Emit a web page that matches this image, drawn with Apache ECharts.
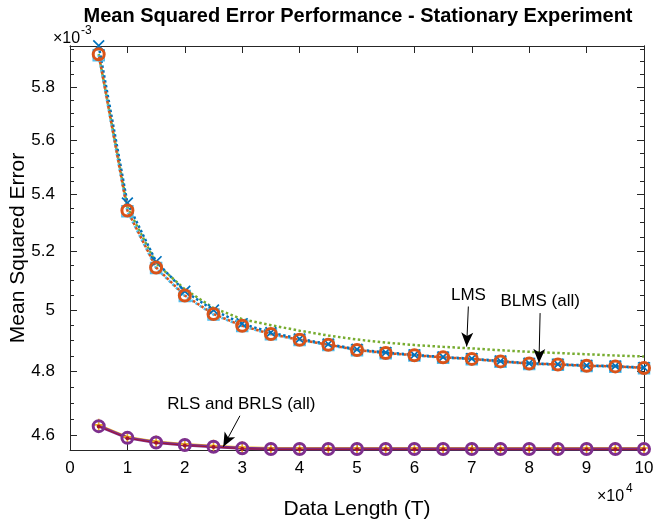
<!DOCTYPE html>
<html>
<head>
<meta charset="utf-8">
<script src="https://cdn.jsdelivr.net/npm/echarts@6/dist/echarts.min.js"></script>
<style>
  html, body { margin: 0; padding: 0; background: #fff; }
  #chart { width: 654px; height: 522px; }
</style>
</head>
<body>
<div id="chart"></div>
<script>
// Data length T for each experiment run
const dataLength = [5000, 10000, 15000, 20000, 25000, 30000, 35000, 40000, 45000, 50000,
                    55000, 60000, 65000, 70000, 75000, 80000, 85000, 90000, 95000, 100000];

// Mean squared error per algorithm
const lms    = [5.930, 5.355, 5.158, 5.070, 5.007, 4.970, 4.950, 4.932, 4.916, 4.903,
                4.893, 4.885, 4.879, 4.874, 4.868, 4.863, 4.859, 4.855, 4.851, 4.848];
const blms1  = [5.963, 5.370, 5.164, 5.063, 5.000, 4.955, 4.926, 4.905, 4.888, 4.871,
                4.861, 4.853, 4.846, 4.841, 4.833, 4.826, 4.823, 4.819, 4.817, 4.812];
const blms2  = [5.929, 5.343, 5.144, 5.049, 4.987, 4.948, 4.921, 4.902, 4.886, 4.869,
                4.859, 4.852, 4.845, 4.840, 4.832, 4.825, 4.822, 4.818, 4.816, 4.811];
const blms3  = [5.925, 5.340, 5.142, 5.047, 4.985, 4.947, 4.920, 4.901, 4.885, 4.868,
                4.858, 4.851, 4.844, 4.839, 4.831, 4.824, 4.821, 4.817, 4.815, 4.810];
const rls1   = [4.632, 4.595, 4.581, 4.573, 4.568, 4.563, 4.561, 4.561, 4.561, 4.561,
                4.561, 4.561, 4.561, 4.561, 4.561, 4.561, 4.561, 4.561, 4.561, 4.561];
const rls2   = [4.628, 4.592, 4.578, 4.570, 4.565, 4.560, 4.558, 4.558, 4.558, 4.558,
                4.558, 4.558, 4.558, 4.558, 4.558, 4.558, 4.558, 4.558, 4.558, 4.558];
const rls3   = [4.627, 4.591, 4.577, 4.569, 4.564, 4.559, 4.557, 4.557, 4.557, 4.557,
                4.557, 4.557, 4.557, 4.557, 4.557, 4.557, 4.557, 4.557, 4.557, 4.557];

// Axis settings (y is a logarithmic scale)
const yRange = [4.555, 5.962];
const yMajorTicks = [4.6, 4.8, 5, 5.2, 5.4, 5.6, 5.8];
const yMinorTicks = [4.65, 4.7, 4.75, 4.85, 4.9, 4.95, 5.05, 5.1, 5.15, 5.25, 5.3, 5.35,
                     5.45, 5.5, 5.55, 5.65, 5.7, 5.75, 5.85, 5.9, 5.95];
const xRange = [0, 100000];
const xStep = 10000;

// Text arrows: label, tail [T, MSE], head [T, MSE]
const arrowLabels = ['LMS', 'BLMS (all)', 'RLS and BRLS (all)'];
const arrowTails  = [[69400, 5.012], [81900, 4.990], [29600, 4.660]];
const arrowHeads  = [[69100, 4.880], [81700, 4.827], [26700, 4.565]];

const lg = Math.log10;
const FONT = '"Liberation Sans", Arial, Helvetica, sans-serif';
const pts = vals => dataLength.map((t, i) => [t, lg(vals[i])]);

const crossPath = 'path://M0,1L1,0L5,4L9,0L10,1L6,5L10,9L9,10L5,6L1,10L0,9L4,5Z';
const plusPath  = 'path://M4.3,0H5.7V4.3H10V5.7H5.7V10H4.3V5.7H0V4.3H4.3Z';

function lineSeries(name, vals, color, opts) {
  return Object.assign({
    name: name,
    type: 'line',
    data: pts(vals),
    clip: false,
    silent: true,
    animation: false,
    lineStyle: { color: color, width: 2.5, type: 'solid' },
    itemStyle: { color: color },
    emphasis: { disabled: true }
  }, opts);
}

const dotted = color => ({ color: color, width: 2.5, type: [2.5, 2.5] });

const series = [
  lineSeries('LMS', lms, '#77AC30', {
    showSymbol: false, symbol: 'none',
    lineStyle: dotted('#77AC30'),
    markLine: {
      silent: true,
      animation: false,
      symbol: ['none', 'arrow'],
      symbolSize: [9, 14],
      lineStyle: { color: '#000', width: 1, type: 'solid' },
      emphasis: { disabled: true },
      label: {
        show: true, position: 'start', formatter: '{b}', distance: 3,
        color: '#000', fontSize: 17, fontFamily: FONT
      },
      data: arrowLabels.map((s, i) => [
        { name: s, coord: [arrowTails[i][0], lg(arrowTails[i][1])] },
        { coord: [arrowHeads[i][0], lg(arrowHeads[i][1])] }
      ])
    }
  }),
  lineSeries('BLMS c', blms3, '#4DBEEE', {
    symbol: 'rect', symbolSize: 11,
    lineStyle: dotted('#4DBEEE'),
    itemStyle: { color: 'rgba(0,0,0,0)', borderColor: '#4DBEEE', borderWidth: 1.5 }
  }),
  lineSeries('BLMS a', blms1, '#0072BD', {
    symbol: crossPath, symbolSize: 12,
    lineStyle: dotted('#0072BD')
  }),
  lineSeries('BLMS b', blms2, '#D95319', {
    symbol: 'circle', symbolSize: 11,
    lineStyle: { color: '#D95319', width: 2.5, type: [2.5, 2.5], dashOffset: 2.5 },
    itemStyle: { color: 'rgba(0,0,0,0)', borderColor: '#D95319', borderWidth: 3 }
  }),
  lineSeries('RLS a', rls1, '#EDB120', {
    symbol: plusPath, symbolSize: 12,
    lineStyle: { color: '#EDB120', width: 2 }
  }),
  lineSeries('RLS b', rls2, '#7E2F8E', {
    symbol: 'circle', symbolSize: 11,
    lineStyle: { color: '#7E2F8E', width: 3 },
    itemStyle: { color: 'rgba(0,0,0,0)', borderColor: '#7E2F8E', borderWidth: 3 }
  }),
  lineSeries('RLS c', rls3, '#A2142F', {
    symbol: 'circle', symbolSize: 4,
    lineStyle: { color: '#A2142F', width: 1 }
  })
];

const axisLine = { show: true, lineStyle: { color: '#262626', width: 1 } };
const hidden = { show: false };
const yAxisBase = {
  type: 'value', min: lg(yRange[0]), max: lg(yRange[1]), splitLine: hidden,
  axisLine: axisLine
};
const yLabel = v => String(Math.round(Math.pow(10, v) * 10) / 10);

const option = {
  animation: false,
  backgroundColor: '#fff',
  grid: { left: 70, right: 10, top: 46, bottom: 72, containLabel: false, outerBoundsMode: 'none' },
  xAxis: [
    {
      type: 'value', position: 'bottom', min: xRange[0], max: xRange[1], interval: xStep,
      splitLine: hidden, axisLine: axisLine,
      axisTick: { inside: true, length: 7, lineStyle: { color: '#262626' } },
      axisLabel: { margin: 10, color: '#000', fontSize: 17, fontFamily: FONT,
                   formatter: v => String(v / 10000) },
      name: 'Data Length (T)', nameLocation: 'middle', nameGap: 49,
      nameTextStyle: { color: '#000', fontSize: 21, fontFamily: FONT }
    },
    {
      type: 'value', position: 'top', min: xRange[0], max: xRange[1], interval: xStep,
      splitLine: hidden, axisLine: axisLine, axisLabel: hidden,
      axisTick: { inside: true, length: 7, lineStyle: { color: '#262626' } }
    }
  ],
  yAxis: [
    Object.assign({}, yAxisBase, {
      position: 'left',
      axisTick: { inside: true, length: 7, customValues: yMajorTicks.map(lg),
                  lineStyle: { color: '#262626' } },
      axisLabel: { margin: 15, color: '#000', fontSize: 17, fontFamily: FONT,
                   customValues: yMajorTicks.map(lg), formatter: yLabel },
      name: 'Mean Squared Error', nameLocation: 'middle', nameGap: 41, nameRotate: 90,
      nameMoveOverlap: false,
      nameTextStyle: { color: '#000', fontSize: 21, fontFamily: FONT }
    }),
    Object.assign({}, yAxisBase, {
      position: 'left', axisLabel: hidden,
      axisTick: { inside: true, length: 4, customValues: yMinorTicks.map(lg),
                  lineStyle: { color: '#262626' } }
    }),
    Object.assign({}, yAxisBase, {
      position: 'right', axisLabel: hidden,
      axisTick: { inside: true, length: 7, customValues: yMajorTicks.map(lg),
                  lineStyle: { color: '#262626' } }
    }),
    Object.assign({}, yAxisBase, {
      position: 'right', axisLabel: hidden,
      axisTick: { inside: true, length: 4, customValues: yMinorTicks.map(lg),
                  lineStyle: { color: '#262626' } }
    })
  ],
  graphic: [
    {
      type: 'text', x: 358, y: 16, silent: true,
      style: { text: 'Mean Squared Error Performance - Stationary Experiment',
               fill: '#000', font: 'bold 20px ' + FONT,
               textAlign: 'center', textVerticalAlign: 'middle',
               align: 'center', verticalAlign: 'middle' }
    },
    {
      type: 'text', x: 53, y: 39, silent: true,
      style: { text: '×10', fill: '#000', font: '16px ' + FONT,
               textAlign: 'left', textVerticalAlign: 'middle',
               align: 'left', verticalAlign: 'middle' }
    },
    {
      type: 'text', x: 81, y: 31, silent: true,
      style: { text: '-3', fill: '#000', font: '12px ' + FONT,
               textAlign: 'left', textVerticalAlign: 'middle',
               align: 'left', verticalAlign: 'middle' }
    },
    {
      type: 'text', x: 597, y: 497, silent: true,
      style: { text: '×10', fill: '#000', font: '16px ' + FONT,
               textAlign: 'left', textVerticalAlign: 'middle',
               align: 'left', verticalAlign: 'middle' }
    },
    {
      type: 'text', x: 626, y: 489, silent: true,
      style: { text: '4', fill: '#000', font: '12px ' + FONT,
               textAlign: 'left', textVerticalAlign: 'middle',
               align: 'left', verticalAlign: 'middle' }
    }
  ],
  series: series
};

const chart = echarts.init(document.getElementById('chart'), null, { renderer: 'canvas' });
chart.setOption(option);
</script>
</body>
</html>
